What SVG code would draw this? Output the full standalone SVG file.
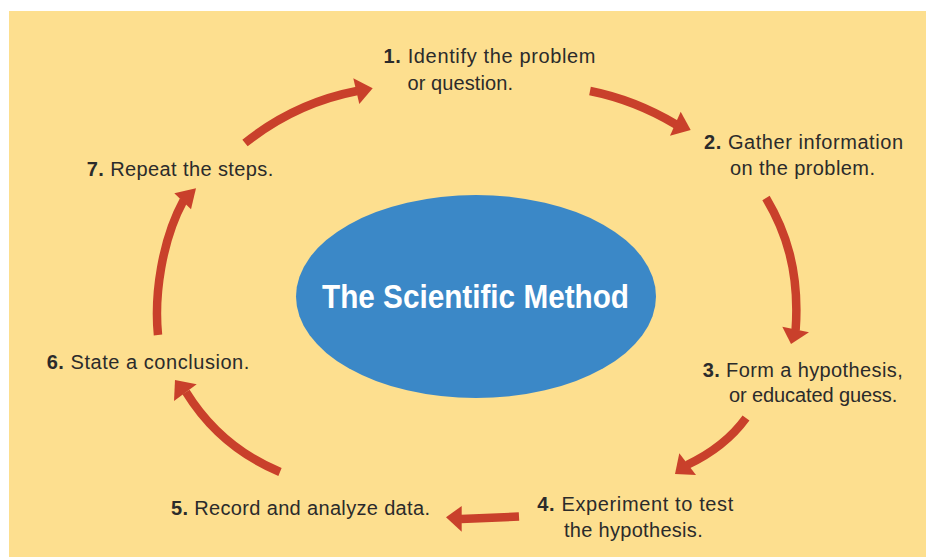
<svg xmlns="http://www.w3.org/2000/svg" width="926" height="557" viewBox="0 0 926 557">
  <style>
    .bg { fill: #FDDF8F; }
    .lbl { font-family: "Liberation Sans", Arial, sans-serif; font-size: 20px; fill: #2B2B2B; }
    .num { font-weight: bold; }
    .title { font-family: "Liberation Sans", Arial, sans-serif; font-size: 33px; font-weight: bold; fill: #FFFFFF; }
    .arc { fill: none; stroke: #C9402B; stroke-width: 8.5; stroke-linecap: butt; }
    .head { fill: #C9402B; }
  </style>
  <rect class="bg" x="9" y="11" width="917" height="546"/>

  <g id="center">
    <ellipse cx="476" cy="296.5" rx="180" ry="101.5" fill="#3B88C7"/>
    <text class="title" x="322" y="307.5" textLength="307" lengthAdjust="spacingAndGlyphs">The Scientific Method</text>
  </g>

  <g id="step1">
    <text class="lbl" x="383.5" y="63" textLength="212"><tspan class="num">1.</tspan> Identify the problem</text>
    <text class="lbl" x="407.5" y="89.5" textLength="105.5">or question.</text>
  </g>
  <g id="step2">
    <text class="lbl" x="704" y="148.5" textLength="199"><tspan class="num">2.</tspan> Gather information</text>
    <text class="lbl" x="730" y="175.3" textLength="145">on the problem.</text>
  </g>
  <g id="step3">
    <text class="lbl" x="702.7" y="376.7" textLength="200"><tspan class="num">3.</tspan> Form a hypothesis,</text>
    <text class="lbl" x="729" y="402" textLength="168.3">or educated guess.</text>
  </g>
  <g id="step4">
    <text class="lbl" x="537.3" y="511" textLength="196"><tspan class="num">4.</tspan> Experiment to test</text>
    <text class="lbl" x="564" y="536.7" textLength="138.7">the hypothesis.</text>
  </g>
  <g id="step5">
    <text class="lbl" x="171" y="515" textLength="259"><tspan class="num">5.</tspan> Record and analyze data.</text>
  </g>
  <g id="step6">
    <text class="lbl" x="46.7" y="369.3" textLength="202.6"><tspan class="num">6.</tspan> State a conclusion.</text>
  </g>
  <g id="step7">
    <text class="lbl" x="86.7" y="175.7" textLength="186.6"><tspan class="num">7.</tspan> Repeat the steps.</text>
  </g>

  <g id="connectors">
    <path class="arc" d="M590,91 Q635,100 676,124.5"/>
    <polygon class="head" points="690.7,130 680.7,111.7 670,135.7"/>

    <path class="arc" d="M766,198 C785,230 800,270 795.6,330.5"/>
    <polygon class="head" points="791,344 782.3,326.7 809,332.3"/>

    <path class="arc" d="M746,418 Q725,447 687,465"/>
    <polygon class="head" points="675,474 679.3,453.3 696,475"/>

    <path class="arc" d="M519,516.5 Q490,518 461,519"/>
    <polygon class="head" points="446,517.3 461.7,506 461.7,531.7"/>

    <path class="arc" d="M280,472 Q220,447 186,392"/>
    <polygon class="head" points="175,380 196.7,384.3 174,401"/>

    <path class="arc" d="M158,335 C154,295 162,240 183.5,200.5"/>
    <polygon class="head" points="196,188.3 174.3,193.3 191,209.3"/>

    <path class="arc" d="M245,143 Q295,103 357,91"/>
    <polygon class="head" points="372.7,88.3 353.3,78.3 359.3,104"/>
  </g>
</svg>
